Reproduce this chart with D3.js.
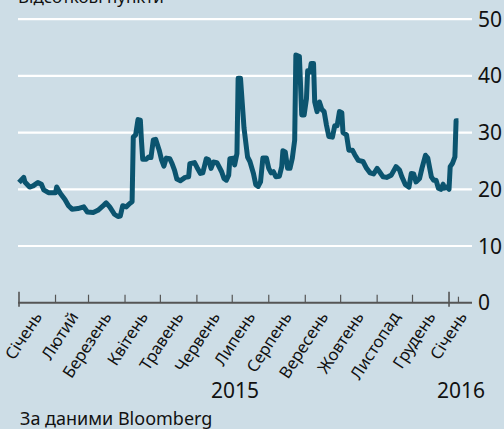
<!DOCTYPE html>
<html>
<head>
<meta charset="utf-8">
<script src="https://d3js.org/d3.v7.min.js"></script>
<style>
  body { margin: 0; padding: 0; background: #cddde6; }
  svg { display: block; }
  text { font-family: "Noto Sans", "Open Sans", sans-serif; fill: #111; }
</style>
</head>
<body>
<div id="chart"></div>
<script>
// spread points, percentage points
var dates = [
  "2015-01-01","2015-01-05","2015-01-06","2015-01-10","2015-01-13","2015-01-17","2015-01-20","2015-01-22","2015-01-26",
  "2015-02-01","2015-02-02","2015-02-05","2015-02-09","2015-02-12","2015-02-15","2015-02-20","2015-02-25","2015-02-28",
  "2015-03-05","2015-03-09","2015-03-14","2015-03-16","2015-03-19","2015-03-23","2015-03-26","2015-03-28","2015-03-30",
  "2015-04-02","2015-04-05","2015-04-07","2015-04-08","2015-04-10","2015-04-12","2015-04-14","2015-04-15","2015-04-16",
  "2015-04-19","2015-04-21","2015-04-23","2015-04-25","2015-04-27","2015-04-30",
  "2015-05-02","2015-05-04","2015-05-06","2015-05-09","2015-05-11","2015-05-13","2015-05-15","2015-05-18","2015-05-22",
  "2015-05-25","2015-05-26","2015-05-30",
  "2015-06-01","2015-06-04","2015-06-06","2015-06-09","2015-06-11","2015-06-13","2015-06-15","2015-06-18","2015-06-20",
  "2015-06-22","2015-06-24","2015-06-26","2015-06-28","2015-06-29",
  "2015-07-02","2015-07-03","2015-07-05","2015-07-06","2015-07-08","2015-07-11","2015-07-14","2015-07-16","2015-07-19",
  "2015-07-21","2015-07-23","2015-07-25","2015-07-27","2015-07-30",
  "2015-08-01","2015-08-03","2015-08-05","2015-08-07","2015-08-10","2015-08-12","2015-08-13","2015-08-15","2015-08-17",
  "2015-08-19","2015-08-21","2015-08-23","2015-08-24","2015-08-27","2015-08-29","2015-08-31",
  "2015-09-02","2015-09-03","2015-09-05","2015-09-06","2015-09-08","2015-09-09","2015-09-11","2015-09-13","2015-09-15",
  "2015-09-17","2015-09-19","2015-09-21","2015-09-24","2015-09-26","2015-09-28","2015-09-30",
  "2015-10-02","2015-10-03","2015-10-06","2015-10-08","2015-10-11","2015-10-13","2015-10-16","2015-10-20","2015-10-23",
  "2015-10-26","2015-10-29",
  "2015-11-01","2015-11-03","2015-11-06","2015-11-09","2015-11-13","2015-11-17","2015-11-20","2015-11-22","2015-11-25",
  "2015-11-28","2015-11-30",
  "2015-12-02","2015-12-04","2015-12-07","2015-12-09","2015-12-12","2015-12-14","2015-12-17","2015-12-19","2015-12-21",
  "2015-12-23","2015-12-25","2015-12-27","2015-12-28","2015-12-30",
  "2016-01-01","2016-01-02","2016-01-04","2016-01-06","2016-01-07","2016-01-09"
];
var values = [
  21.2,22.1,21.3,20.4,20.6,21.2,20.9,19.9,19.4,
  19.4,20.4,19.3,18.2,17.1,16.5,16.6,16.9,16.0,
  15.9,16.3,17.2,17.6,16.9,15.6,15.2,15.3,17.1,
  16.9,17.5,17.8,29.2,29.6,32.3,32.2,28.4,25.3,
  25.3,25.7,25.6,28.7,28.8,26.9,
  25.2,24.1,25.5,25.4,24.5,23.4,21.8,21.5,22.1,
  22.2,24.5,24.7,
  23.9,22.8,22.9,25.4,25.2,23.7,24.8,24.7,23.9,
  23.1,21.9,21.6,22.5,25.4,
  25.5,24.3,26.3,39.6,39.6,30.8,25.7,24.9,22.8,
  20.8,20.5,21.3,25.5,25.5,
  23.7,22.9,23.1,22.2,22.3,24.0,26.8,26.6,23.7,
  23.7,25.5,28.7,43.7,43.4,33.1,33.1,
  36.0,40.9,40.7,42.2,42.2,35.4,33.7,35.4,34.1,
  33.7,31.3,29.3,29.2,31.2,31.2,33.7,
  33.5,30.0,29.6,26.9,26.9,26.1,25.1,24.9,23.7,
  22.9,22.7,
  23.7,23.1,22.2,22.1,22.5,24.0,23.4,22.2,20.8,
  20.4,22.8,
  22.7,21.3,21.9,23.7,26.0,25.5,22.2,21.6,21.6,
  20.2,20.0,20.9,20.2,20.4,
  20.0,24.0,24.6,25.7,32.1,32.1
];
var yTicks = [0, 10, 20, 30, 40, 50];
var monthLabels = ["Січень","Лютий","Березень","Квітень","Травень","Червень","Липень",
                   "Серпень","Вересень","Жовтень","Листопад","Грудень","Січень"];
var yearLabels = ["2015", "2016"];

var parse = d3.timeParse("%Y-%m-%d");
var data = dates.map(function (d, i) { return { date: parse(d), value: values[i] }; });

var W = 504, H = 429;
var svg = d3.select("#chart").append("svg")
  .attr("width", W).attr("height", H);

svg.append("rect").attr("width", W).attr("height", H).attr("fill", "#cddde6");

var x = d3.scaleTime()
  .domain([new Date(2015, 0, 1), new Date(2016, 0, 20, 6)])
  .range([19, 471.7]);
var y = d3.scaleLinear().domain([0, 50]).range([302.7, 19.2]);

// title (cut off at the top of the picture, as in the original)
svg.append("text").attr("x", 18).attr("y", 3)
  .style("font-size", "17px").text("Відсоткові пункти");

// horizontal grid
svg.append("g").selectAll("line")
  .data(yTicks.filter(function (d) { return d > 0; }))
  .enter().append("line")
  .attr("x1", 18).attr("x2", 472)
  .attr("y1", function (d) { return y(d); })
  .attr("y2", function (d) { return y(d); })
  .attr("stroke", "#fff").attr("stroke-width", 2.2);

// y labels on the right
svg.append("g").selectAll("text")
  .data(yTicks).enter().append("text")
  .attr("x", 478)
  .attr("y", function (d) { return y(d) + 7.5; })
  .style("font-size", "21px")
  .text(function (d) { return d; });

// the line
var line = d3.line()
  .x(function (d) { return x(d.date); })
  .y(function (d) { return y(d.value); });

svg.append("path").datum(data)
  .attr("d", line)
  .attr("fill", "none")
  .attr("stroke", "#0b546f")
  .attr("stroke-width", 5)
  .attr("stroke-linejoin", "round");

// x axis
var months = d3.timeMonth.range(new Date(2015, 0, 1), new Date(2016, 1, 1));
svg.append("line")
  .attr("x1", 18).attr("x2", 472)
  .attr("y1", y(0)).attr("y2", y(0))
  .attr("stroke", "#555").attr("stroke-width", 2);

svg.append("g").selectAll("line")
  .data(months.slice(0, 13)).enter().append("line")
  .attr("x1", function (d) { return x(d); })
  .attr("x2", function (d) { return x(d); })
  .attr("y1", function (d) { return d.getMonth() === 0 ? y(0) - 11 : y(0) - 8; })
  .attr("y2", function (d) { return d.getMonth() === 0 ? y(0) + 4 : y(0); })
  .attr("stroke", "#555").attr("stroke-width", function (d) { return d.getMonth() === 0 ? 1.6 : 1.2; });

// small tick marking last data point
svg.append("line")
  .attr("x1", x(data[data.length - 1].date)).attr("x2", x(data[data.length - 1].date))
  .attr("y1", y(0) - 6).attr("y2", y(0))
  .attr("stroke", "#555").attr("stroke-width", 1.2);

svg.append("g").selectAll("text")
  .data(monthLabels).enter().append("text")
  .attr("text-anchor", "end")
  .attr("transform", function (d, i) {
    var mid = d3.timeDay.offset(months[i], 15);
    var dx = i === monthLabels.length - 1 ? 1 : 6;
    return "translate(" + (x(mid) + dx) + "," + (y(0) + 14) + ") rotate(-57)";
  })
  .style("font-size", "16.5px")
  .text(function (d) { return d; });

svg.append("text").attr("x", 235).attr("y", 398)
  .attr("text-anchor", "middle").style("font-size", "21px").text(yearLabels[0]);
svg.append("text").attr("x", 485).attr("y", 398)
  .attr("text-anchor", "end").style("font-size", "21px").text(yearLabels[1]);

svg.append("text").attr("x", 20).attr("y", 425)
  .style("font-size", "18px").text("За даними Bloomberg");
</script>
</body>
</html>
